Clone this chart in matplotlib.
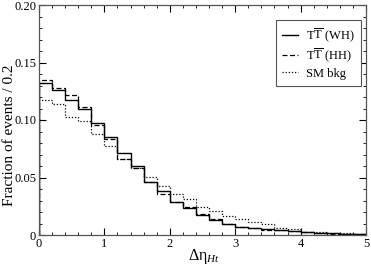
import matplotlib
matplotlib.use("Agg")
import matplotlib.pyplot as plt
import numpy as np
from matplotlib.ticker import MultipleLocator, FixedLocator, FixedFormatter

edges = np.round(np.arange(0, 5.0001, 0.2), 2)
wh = [0.132, 0.126, 0.117, 0.110, 0.097, 0.085, 0.0716, 0.060, 0.0462, 0.0385,
      0.029, 0.0238, 0.0174, 0.013, 0.0096, 0.0067, 0.0058, 0.0048, 0.0043, 0.0035,
      0.0022, 0.0018, 0.0014, 0.0010, 0.0006]
hh = [0.1345, 0.128, 0.1215, 0.111, 0.0957, 0.0838, 0.066, 0.058, 0.046, 0.0354,
      0.029, 0.024, 0.018, 0.0135, 0.0098, 0.0068, 0.0058, 0.0045, 0.0040, 0.0033,
      0.0022, 0.0017, 0.0013, 0.0009, 0.0005]
sm = [0.117, 0.114, 0.103, 0.0994, 0.088, 0.0777, 0.0665, 0.058, 0.0505, 0.0429,
      0.0355, 0.031, 0.0246, 0.0205, 0.0165, 0.0139, 0.0115, 0.0093, 0.0058, 0.0052,
      0.0030, 0.0025, 0.0020, 0.0015, 0.0010]
labels = [r'T$\mathrm{\overline{T}}$ (WH)', r'T$\mathrm{\overline{T}}$ (HH)', 'SM bkg']
yticks = [0, 0.05, 0.10, 0.15, 0.20]
yticklabels = ['0', '0.05', '0.10', '0.15', '0.20']

plt.rcParams['font.family'] = ['Liberation Serif', 'DejaVu Serif']
plt.rcParams['mathtext.fontset'] = 'custom'
plt.rcParams['mathtext.rm'] = 'Liberation Serif'
plt.rcParams['mathtext.it'] = 'Liberation Serif:italic'

fig = plt.figure(figsize=(3.71, 2.67), dpi=100)
ax = fig.add_axes([39/371, 1-235/267, (366-39)/371, (235-5)/267])

ax.stairs(wh, edges, color='black', lw=1.0, linestyle='-', label=labels[0])
ax.stairs(hh, edges, color='black', lw=0.9, linestyle=(0, (4, 2)), label=labels[1])
ax.stairs(sm, edges, color='black', lw=0.9, linestyle=(0, (1, 1.5)), label=labels[2])

ax.set_xlim(0, 5)
ax.set_ylim(0, 0.2)
ax.xaxis.set_major_locator(MultipleLocator(1))
ax.xaxis.set_minor_locator(MultipleLocator(0.2))
ax.yaxis.set_major_locator(FixedLocator(yticks))
ax.yaxis.set_major_formatter(FixedFormatter(yticklabels))
ax.yaxis.set_minor_locator(MultipleLocator(0.01))
ax.tick_params(which='both', direction='in', top=True, right=True, labelsize=9, pad=2)
ax.tick_params(which='major', length=5, width=0.8)
ax.tick_params(which='minor', length=2.5, width=0.6)
for s in ax.spines.values():
    s.set_linewidth(0.9)
    s.set_color('#555555')

ax.set_ylabel('Fraction of events / 0.2', fontsize=11)
ax.yaxis.set_label_coords(-0.07, 0.435)
ax.set_xlabel('Δη$_{Ht}$', fontsize=11.5)
ax.xaxis.set_label_coords(0.505, -0.05)

leg = ax.legend(loc='upper right', bbox_to_anchor=(0.985, 0.935), borderaxespad=0,
                fontsize=9, handlelength=1.3, handletextpad=0.6, borderpad=0.5,
                labelspacing=0.25, fancybox=False, framealpha=1, edgecolor='#555555')
leg.get_frame().set_linewidth(0.8)

fig.savefig('out.png', dpi=100)
